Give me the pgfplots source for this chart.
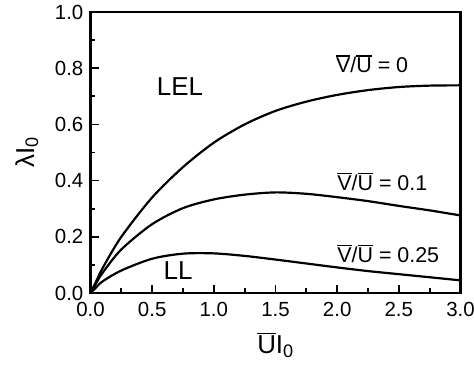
\documentclass[border=0pt]{standalone}
\usepackage{fontspec}
\setmainfont{Liberation Sans}
\usepackage{pgfplots}
\pgfplotsset{compat=1.18}
\newcommand\ovl[1]{\vbox{\hrule height 1.3pt\kern 1.5pt\hbox{#1}}}
\begin{document}
\begin{tikzpicture}
\begin{axis}[
  scale only axis,
  width=370bp, height=281bp,
  xmin=0, xmax=3, ymin=0, ymax=1,
  axis line style={line width=2.2pt},
  xtick={0,0.5,...,3}, ytick={0,0.2,...,1},
  minor tick num=1,
  tick align=inside,
  xtick pos=left, ytick pos=left,
  major tick length=8bp, minor tick length=5bp,
  every tick/.style={black, line width=1.8pt},
  tick label style={font=\fontsize{20.5}{20.5}\selectfont},
  /pgf/number format/assume math mode=true,
  /pgf/number format/fixed, /pgf/number format/fixed zerofill,
  /pgf/number format/precision=1,
  xticklabel style={inner sep=1bp, yshift=-8bp},
  yticklabel style={inner sep=1bp, xshift=-6bp},
  xlabel={\ovl{U}I\textsubscript{0}},
  ylabel={λI\textsubscript{0}},
  label style={font=\fontsize{26}{26}\selectfont},
  xlabel style={yshift=-12bp},
  ylabel style={yshift=12bp},
  clip=false,
]
\addplot[black, line width=2.2pt, smooth, tension=0.5] coordinates {
(0,0) (0.05,0.045) (0.1,0.09) (0.25,0.20) (0.5,0.34) (0.75,0.448)
(1.0,0.535) (1.25,0.600) (1.5,0.648) (1.75,0.681) (2.0,0.705) (2.25,0.722)
(2.5,0.733) (2.75,0.738) (3.0,0.739)};
\addplot[black, line width=2.2pt, smooth, tension=0.5] coordinates {
(0,0) (0.05,0.038) (0.1,0.073) (0.25,0.155) (0.5,0.245) (0.75,0.302)
(1.0,0.333) (1.25,0.350) (1.5,0.358) (1.75,0.353) (2.0,0.341) (2.25,0.327)
(2.5,0.310) (2.75,0.294) (3.0,0.276)};
\addplot[black, line width=2.2pt, smooth, tension=0.5] coordinates {
(0,0) (0.05,0.022) (0.1,0.042) (0.25,0.080) (0.5,0.122) (0.75,0.140)
(1.0,0.141) (1.25,0.132) (1.5,0.119) (1.75,0.105) (2.0,0.091) (2.25,0.078)
(2.5,0.067) (2.75,0.056) (3.0,0.045)};
\node[font=\fontsize{26}{26}\selectfont] at (axis cs:0.725,0.733) {LEL};
\node[font=\fontsize{26}{26}\selectfont] at (axis cs:0.71,0.078) {LL};
\node[anchor=base west, inner sep=0pt, font=\fontsize{21.5}{21.5}\selectfont] at (axis cs:1.99,0.783) {\ovl{V}/\ovl{U} = 0};
\node[anchor=base west, inner sep=0pt, font=\fontsize{21.5}{21.5}\selectfont] at (axis cs:2.0,0.364) {\ovl{V}/\ovl{U} = 0.1};
\node[anchor=base west, inner sep=0pt, font=\fontsize{21.5}{21.5}\selectfont] at (axis cs:2.0,0.108) {\ovl{V}/\ovl{U} = 0.25};
\coordinate (O) at (rel axis cs:0,0);
\end{axis}
\pgfresetboundingbox
\path ([shift={(-90.5bp,-79bp)}]O) rectangle ++(474bp,372bp);
\end{tikzpicture}
\end{document}
